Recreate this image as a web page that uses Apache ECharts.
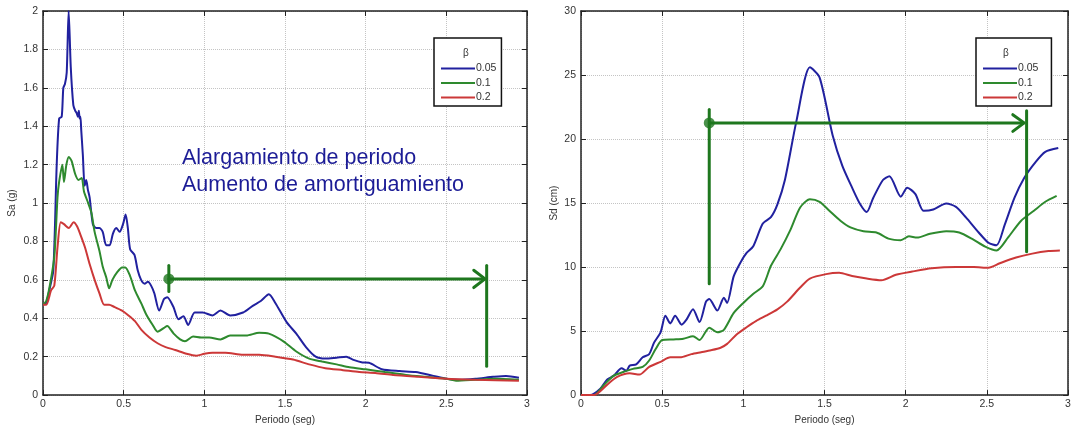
<!DOCTYPE html>
<html>
<head>
<meta charset="utf-8">
<script src="https://cdn.jsdelivr.net/npm/echarts@6/dist/echarts.min.js"></script>
<style>
html,body{margin:0;padding:0;background:#fff;}
#c{width:1076px;height:430px;}
</style>
</head>
<body>
<div id="c"></div>
<script>
// ---- data ----
const betaNames = ['0.05', '0.1', '0.2'];
const periodTicks = [0, 0.5, 1, 1.5, 2, 2.5, 3];

// Left chart: Sa (g) vs period
const sa005 = [[0,0.47],[0.02,0.48],[0.04,0.55],[0.064,0.65],[0.085,1.2],[0.10,1.44],[0.116,1.45],[0.126,1.60],[0.136,1.62],[0.147,1.68],[0.159,2.0],[0.172,1.71],[0.188,1.51],[0.2,1.48],[0.208,1.47],[0.216,1.45],[0.222,1.48],[0.227,1.44],[0.232,1.45],[0.237,1.38],[0.247,1.25],[0.258,1.09],[0.268,1.12],[0.278,1.07],[0.289,1.03],[0.309,0.89],[0.33,0.87],[0.35,0.87],[0.37,0.85],[0.392,0.78],[0.413,0.78],[0.433,0.84],[0.454,0.87],[0.475,0.85],[0.496,0.89],[0.512,0.94],[0.526,0.87],[0.54,0.76],[0.567,0.73],[0.587,0.65],[0.608,0.6],[0.63,0.58],[0.65,0.59],[0.67,0.57],[0.69,0.53],[0.72,0.44],[0.75,0.5],[0.77,0.51],[0.808,0.46],[0.84,0.395],[0.87,0.41],[0.9,0.365],[0.94,0.43],[0.99,0.43],[1.05,0.415],[1.1,0.44],[1.16,0.415],[1.24,0.43],[1.30,0.465],[1.35,0.49],[1.40,0.525],[1.44,0.48],[1.51,0.38],[1.57,0.32],[1.63,0.25],[1.69,0.2],[1.75,0.19],[1.82,0.195],[1.88,0.2],[1.92,0.185],[1.98,0.17],[2.02,0.168],[2.10,0.135],[2.21,0.125],[2.31,0.12],[2.42,0.10],[2.5,0.085],[2.58,0.08],[2.68,0.085],[2.79,0.095],[2.87,0.1],[2.95,0.09]];
const sa01 = [[0,0.47],[0.02,0.49],[0.04,0.56],[0.07,0.72],[0.09,1.03],[0.10,1.11],[0.12,1.2],[0.13,1.11],[0.145,1.2],[0.16,1.24],[0.177,1.22],[0.2,1.15],[0.22,1.12],[0.24,1.13],[0.254,1.06],[0.28,1.0],[0.3,0.95],[0.32,0.85],[0.35,0.75],[0.37,0.67],[0.393,0.61],[0.41,0.556],[0.43,0.6],[0.46,0.64],[0.49,0.665],[0.51,0.665],[0.54,0.62],[0.57,0.545],[0.61,0.476],[0.64,0.42],[0.68,0.365],[0.71,0.33],[0.75,0.35],[0.77,0.36],[0.81,0.32],[0.85,0.29],[0.88,0.28],[0.93,0.305],[0.98,0.3],[1.03,0.3],[1.1,0.29],[1.16,0.31],[1.26,0.31],[1.34,0.325],[1.4,0.32],[1.49,0.28],[1.57,0.227],[1.65,0.19],[1.73,0.175],[1.82,0.16],[1.9,0.145],[2.0,0.134],[2.12,0.12],[2.25,0.105],[2.37,0.095],[2.5,0.085],[2.56,0.075],[2.68,0.08],[2.79,0.085],[2.95,0.08]];
const sa02 = [[0,0.47],[0.02,0.47],[0.05,0.545],[0.07,0.57],[0.09,0.77],[0.11,0.9],[0.13,0.89],[0.16,0.87],[0.19,0.9],[0.21,0.88],[0.23,0.84],[0.26,0.77],[0.29,0.68],[0.32,0.6],[0.35,0.53],[0.38,0.47],[0.41,0.47],[0.44,0.46],[0.49,0.44],[0.53,0.415],[0.57,0.385],[0.61,0.34],[0.66,0.3],[0.71,0.27],[0.76,0.25],[0.82,0.235],[0.89,0.215],[0.95,0.205],[1.0,0.215],[1.05,0.22],[1.13,0.22],[1.24,0.21],[1.34,0.21],[1.44,0.2],[1.55,0.185],[1.65,0.16],[1.75,0.14],[1.86,0.13],[1.96,0.12],[2.06,0.115],[2.17,0.105],[2.33,0.095],[2.5,0.085],[2.68,0.08],[2.95,0.075]];

// Right chart: Sd (cm) vs period
const sd005 = [[0,0],[0.057,0],[0.119,0.5],[0.16,1.2],[0.2,1.5],[0.25,2.1],[0.28,1.9],[0.3,2.3],[0.34,2.4],[0.38,2.95],[0.42,3.2],[0.45,4.1],[0.49,4.9],[0.52,6.2],[0.55,5.6],[0.58,6.2],[0.62,5.5],[0.65,5.9],[0.69,6.7],[0.73,5.7],[0.77,7.3],[0.79,7.5],[0.84,6.6],[0.88,7.6],[0.9,7.2],[0.94,9.25],[0.98,10.3],[1.02,11.1],[1.06,11.6],[1.12,13.4],[1.17,13.9],[1.21,14.9],[1.256,16.8],[1.327,21.4],[1.41,25.6],[1.47,24.8],[1.55,20.3],[1.61,17.9],[1.67,16.2],[1.72,14.9],[1.76,14.3],[1.80,15.4],[1.86,16.8],[1.9,17.1],[1.97,15.5],[2.01,16.2],[2.06,15.7],[2.11,14.4],[2.17,14.5],[2.25,14.97],[2.31,14.7],[2.37,13.9],[2.45,12.7],[2.51,11.9],[2.56,11.7],[2.61,13.3],[2.67,15.4],[2.73,16.96],[2.8,18.2],[2.86,19.0],[2.94,19.3]];
const sd01 = [[0,0],[0.08,0],[0.14,0.77],[0.2,1.5],[0.26,1.8],[0.32,2.05],[0.38,2.2],[0.42,2.7],[0.46,3.6],[0.5,4.3],[0.57,4.35],[0.63,4.4],[0.69,4.6],[0.73,4.3],[0.79,5.27],[0.84,4.9],[0.88,5.1],[0.94,6.4],[1.0,7.2],[1.06,7.9],[1.12,8.5],[1.17,10.1],[1.23,11.4],[1.29,12.9],[1.35,14.65],[1.41,15.3],[1.47,15.1],[1.53,14.4],[1.6,13.6],[1.66,13.1],[1.74,12.8],[1.82,12.7],[1.9,12.2],[1.97,12.1],[2.02,12.4],[2.07,12.3],[2.15,12.6],[2.25,12.8],[2.33,12.7],[2.41,12.2],[2.49,11.6],[2.56,11.3],[2.63,12.3],[2.71,13.6],[2.79,14.4],[2.86,15.1],[2.93,15.56]];
const sd02 = [[0,0],[0.08,0],[0.16,0.8],[0.22,1.4],[0.3,1.7],[0.36,1.6],[0.42,2.2],[0.49,2.6],[0.55,2.95],[0.61,2.95],[0.68,3.2],[0.74,3.35],[0.8,3.5],[0.86,3.7],[0.9,4.0],[0.96,4.75],[1.02,5.3],[1.08,5.8],[1.14,6.2],[1.21,6.7],[1.27,7.3],[1.35,8.4],[1.41,9.1],[1.51,9.45],[1.59,9.55],[1.67,9.3],[1.76,9.1],[1.85,8.97],[1.94,9.4],[2.04,9.65],[2.16,9.9],[2.31,10.0],[2.42,10.0],[2.51,9.95],[2.58,10.3],[2.68,10.75],[2.78,11.05],[2.88,11.25],[2.95,11.3]];

// Annotation arrows (data coordinates)
const saArrowStart = [[0.78, 0.605]];
const saArrowLine = [[0.78, 0.605], [2.735, 0.605]];
const saArrowHead = [[2.67, 0.65], [2.74, 0.605], [2.67, 0.56]];
const saStartTick = [[0.78, 0.675], [0.78, 0.54]];
const saEndBar = [[2.75, 0.675], [2.75, 0.15]];
const sdArrowStart = [[0.79, 21.26]];
const sdArrowLine = [[0.79, 21.26], [2.725, 21.26]];
const sdArrowHead = [[2.66, 21.9], [2.73, 21.26], [2.66, 20.6]];
const sdStartBar = [[0.79, 22.3], [0.79, 8.7]];
const sdEndBar = [[2.745, 22.2], [2.745, 11.2]];

const annotationLines = ['Alargamiento de periodo', 'Aumento de amortiguamiento'];

// ---- styles ----
const COLORS = ['#21219f', '#2e8a2e', '#cc3838'];
const ARROW = '#1e771e';
const FONT = 'Liberation Sans, Arial, sans-serif';
const TXT = '#333';

const chart = echarts.init(document.getElementById('c'), null, {renderer: 'canvas'});

function xAxes(gridIndex) {
  return [
    { type: 'value', gridIndex, min: 0, max: 3, interval: 0.5, position: 'bottom',
      name: 'Periodo (seg)', nameLocation: 'middle', nameGap: 17,
      nameTextStyle: {fontFamily: FONT, fontSize: 10, color: TXT},
      axisLine: {show: true, onZero: false, lineStyle: {color: '#222', width: 1.5}},
      axisTick: {show: true, inside: true, length: 5, lineStyle: {color: '#222'}},
      axisLabel: {fontFamily: FONT, fontSize: 10.5, color: TXT, margin: 4},
      splitLine: {show: true, lineStyle: {color: '#c4c4c4', type: 'dotted', width: 1}} },
    { type: 'value', gridIndex, min: 0, max: 3, interval: 0.5, position: 'top',
      axisLine: {show: true, onZero: false, lineStyle: {color: '#222', width: 1.5}},
      axisTick: {show: true, inside: true, length: 5, lineStyle: {color: '#222'}},
      axisLabel: {show: false}, splitLine: {show: false} }
  ];
}
function yAxes(gridIndex, max, interval, name, gap) {
  return [
    { type: 'value', gridIndex, min: 0, max, interval, position: 'left',
      name, nameLocation: 'middle', nameGap: gap,
      nameTextStyle: {fontFamily: FONT, fontSize: 10, color: TXT},
      axisLine: {show: true, onZero: false, lineStyle: {color: '#222', width: 1.5}},
      axisTick: {show: true, inside: true, length: 5, lineStyle: {color: '#222'}},
      axisLabel: {fontFamily: FONT, fontSize: 10.5, color: TXT, margin: 5},
      splitLine: {show: true, lineStyle: {color: '#c4c4c4', type: 'dotted', width: 1}} },
    { type: 'value', gridIndex, min: 0, max, interval, position: 'right',
      axisLine: {show: true, onZero: false, lineStyle: {color: '#222', width: 1.5}},
      axisTick: {show: true, inside: true, length: 5, lineStyle: {color: '#222'}},
      axisLabel: {show: false}, splitLine: {show: false} }
  ];
}

function curve(name, data, xi, yi, color) {
  return { type: 'line', name, data, xAxisIndex: xi, yAxisIndex: yi,
    showSymbol: false, smooth: 0.25, z: 3,
    lineStyle: {color, width: 2}, itemStyle: {color} };
}
function arrowLine(data, xi, yi) {
  return { type: 'line', data, xAxisIndex: xi, yAxisIndex: yi, showSymbol: false,
    z: 5, silent: true, lineStyle: {color: ARROW, width: 3, cap: 'round', join: 'round'} };
}
function dot(data, xi, yi) {
  return { type: 'scatter', data, xAxisIndex: xi, yAxisIndex: yi, symbolSize: 11,
    z: 6, silent: true, itemStyle: {color: ARROW} };
}

function legendBox(left, padRight) {
  return { data: betaNames, left, top: 38, orient: 'vertical', icon: 'rect',
    itemWidth: 34, itemHeight: 2, itemGap: 1.5,
    backgroundColor: '#fff', borderColor: '#111', borderWidth: 1.5, borderRadius: 0,
    padding: [24, padRight, 2, 7], selectedMode: false,
    textStyle: {fontFamily: FONT, fontSize: 10.5, color: TXT, lineHeight: 13, padding: [0, 0, 0, -4]} };
}

const option = {
  backgroundColor: '#fff',
  animation: false,
  grid: [
    {left: 43, top: 11, width: 484, height: 388, show: false},
    {left: 581, top: 11, width: 487, height: 389, show: false}
  ],
  xAxis: [...xAxes(0), ...xAxes(1)],
  yAxis: [...yAxes(0, 2, 0.2, 'Sa (g)', 26), ...yAxes(1, 30, 5, 'Sd (cm)', 22)],
  legend: [legendBox(434, 5), legendBox(976, 13)],
  graphic: [
    {type: 'text', left: 463, top: 48, z: 100, style: {text: 'β', font: '10px ' + FONT, fill: TXT}},
    {type: 'text', left: 1003, top: 48, z: 100, style: {text: 'β', font: '10px ' + FONT, fill: TXT}},
    {type: 'text', left: 182, top: 145, z: 100,
     style: {text: annotationLines.join('\n'), font: '21.5px ' + FONT, fill: '#1c1c96', lineHeight: 27}}
  ],
  series: [
    curve(betaNames[0], sa005, 0, 0, COLORS[0]),
    curve(betaNames[1], sa01, 0, 0, COLORS[1]),
    curve(betaNames[2], sa02, 0, 0, COLORS[2]),
    curve(betaNames[0], sd005, 2, 2, COLORS[0]),
    curve(betaNames[1], sd01, 2, 2, COLORS[1]),
    curve(betaNames[2], sd02, 2, 2, COLORS[2]),
    arrowLine(saArrowLine, 0, 0),
    arrowLine(saArrowHead, 0, 0),
    arrowLine(saStartTick, 0, 0),
    arrowLine(saEndBar, 0, 0),
    dot(saArrowStart, 0, 0),
    arrowLine(sdArrowLine, 2, 2),
    arrowLine(sdArrowHead, 2, 2),
    arrowLine(sdStartBar, 2, 2),
    arrowLine(sdEndBar, 2, 2),
    dot(sdArrowStart, 2, 2)
  ]
};
chart.setOption(option);
</script>
</body>
</html>
